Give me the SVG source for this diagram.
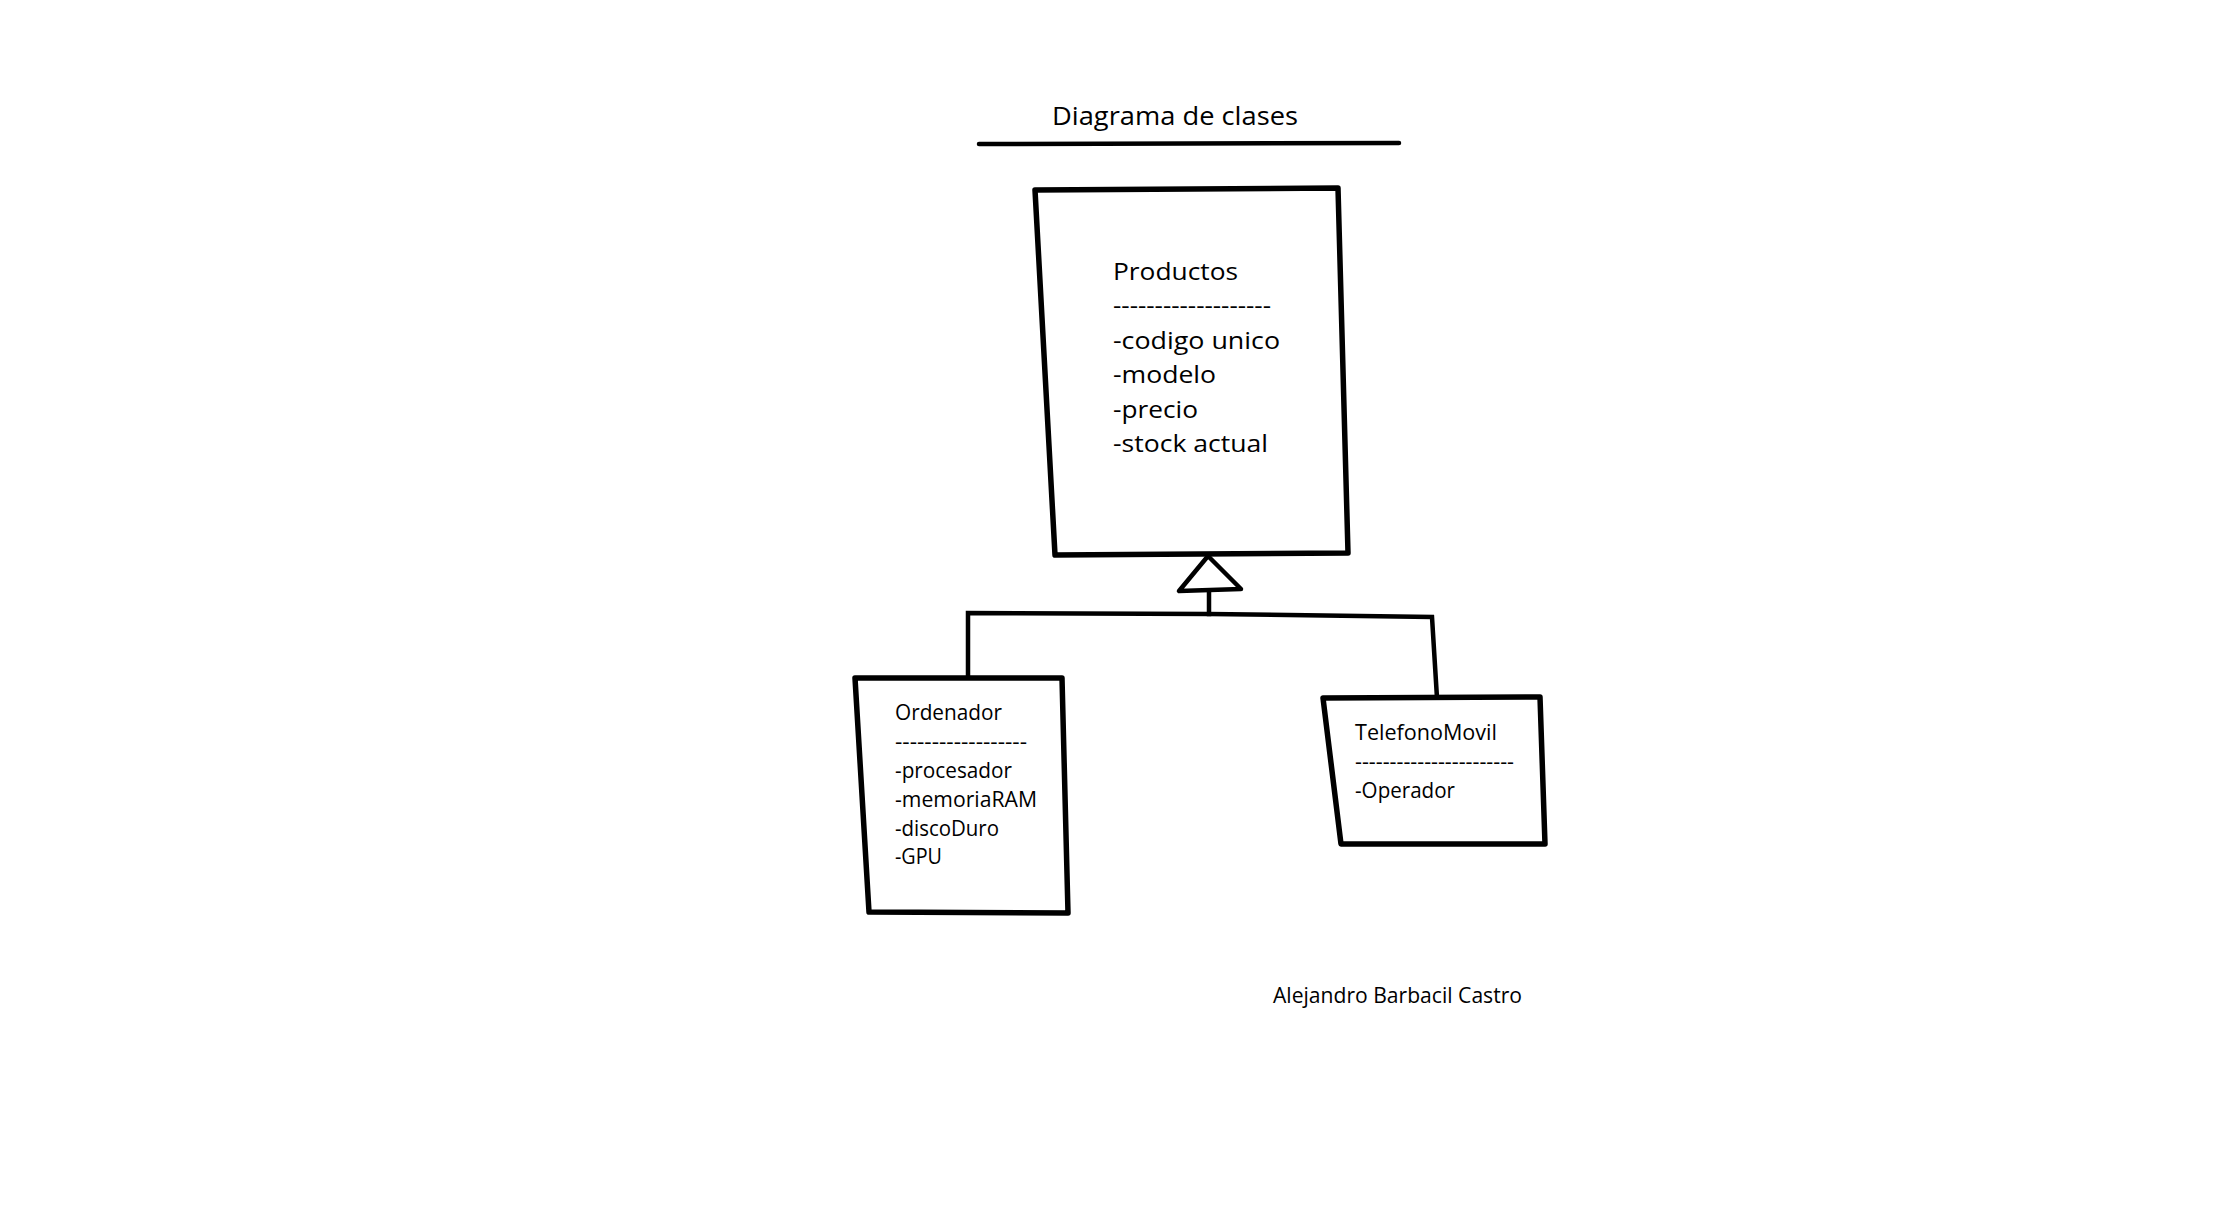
<svg xmlns="http://www.w3.org/2000/svg" width="2217" height="1229" viewBox="0 0 2217 1229">
<style>
.box{fill:#fff;stroke:#000;stroke-width:5.5;stroke-linejoin:round}
.ln{fill:none;stroke:#000;stroke-width:4.5;stroke-linecap:square}
.tri{fill:#fff;stroke:#000;stroke-width:4.5;stroke-linejoin:round}
text{font-family:"Open Sans","Liberation Sans",sans-serif;fill:#000}
.t1{font-size:26px}
.t2{font-size:24px}
.t3{font-size:21px}
</style>
<rect width="2217" height="1229" fill="#fff"/>
<g id="title">
<text class="t1" x="1052" y="125" textLength="246" lengthAdjust="spacingAndGlyphs">Diagrama de clases</text>
<line x1="979" y1="144" x2="1399" y2="143" stroke="#000" stroke-width="4.5" stroke-linecap="round"/>
</g>
<g id="connectors">
<polyline class="ln" points="968,679 968,613 1209,614 1432,617 1437,698"/>
<line class="ln" x1="1209" y1="591" x2="1209" y2="614"/>
<polygon class="tri" points="1208,556 1179,591 1241,589"/>
</g>
<g id="productos">
<polygon class="box" points="1035,190 1338,188 1348,553 1055,555"/>
<text class="t2" x="1113" y="280" textLength="125" lengthAdjust="spacingAndGlyphs">Productos</text>
<text class="t2" x="1113" y="314" textLength="158" lengthAdjust="spacingAndGlyphs">-------------------</text>
<text class="t2" x="1113" y="349" textLength="167" lengthAdjust="spacingAndGlyphs">-codigo unico</text>
<text class="t2" x="1113" y="383" textLength="103" lengthAdjust="spacingAndGlyphs">-modelo</text>
<text class="t2" x="1113" y="418" textLength="85" lengthAdjust="spacingAndGlyphs">-precio</text>
<text class="t2" x="1113" y="452" textLength="155" lengthAdjust="spacingAndGlyphs">-stock actual</text>
</g>
<g id="ordenador">
<polygon class="box" points="855,678 1062,678 1068,913 869,912"/>
<text class="t3" x="895" y="720" textLength="107" lengthAdjust="spacingAndGlyphs">Ordenador</text>
<text class="t3" x="895" y="749" textLength="132" lengthAdjust="spacingAndGlyphs">------------------</text>
<text class="t3" x="895" y="778" textLength="117" lengthAdjust="spacingAndGlyphs">-procesador</text>
<text class="t3" x="895" y="807" textLength="142" lengthAdjust="spacingAndGlyphs">-memoriaRAM</text>
<text class="t3" x="895" y="836" textLength="104" lengthAdjust="spacingAndGlyphs">-discoDuro</text>
<text class="t3" x="895" y="864" textLength="47" lengthAdjust="spacingAndGlyphs">-GPU</text>
</g>
<g id="telefonomovil">
<polygon class="box" points="1323,698 1540,697 1545,844 1341,844"/>
<text class="t3" x="1355" y="740" textLength="142" lengthAdjust="spacingAndGlyphs">TelefonoMovil</text>
<text class="t3" x="1355" y="769" textLength="159" lengthAdjust="spacingAndGlyphs">-----------------------</text>
<text class="t3" x="1355" y="798" textLength="100" lengthAdjust="spacingAndGlyphs">-Operador</text>
</g>
<g id="author">
<text class="t3" x="1273" y="1003" textLength="249" lengthAdjust="spacingAndGlyphs">Alejandro Barbacil Castro</text>
</g>
</svg>
